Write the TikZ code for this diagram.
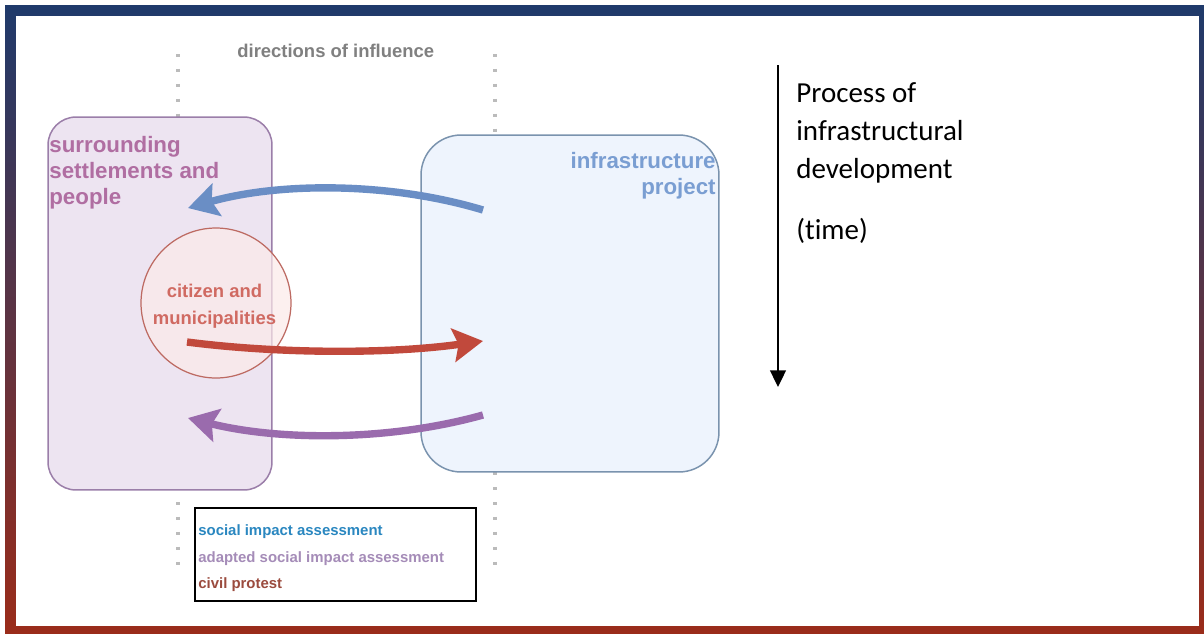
\documentclass[tikz,border=0pt]{standalone}
\usepackage{fontspec}
\setmainfont{Liberation Sans}
\newfontfamily\calibri[Ligatures=NoCommon]{Carlito}
\usetikzlibrary{arrows.meta}

\definecolor{framebl}{HTML}{1F3A6B}
\definecolor{framemd}{HTML}{5A3460}
\definecolor{framerd}{HTML}{9A2C1A}
\definecolor{dotgray}{HTML}{BBBBBB}
\definecolor{settlefill}{HTML}{EDE4F1}
\definecolor{settleline}{HTML}{9B7EA9}
\definecolor{settletext}{HTML}{B06EA2}
\definecolor{projfill}{HTML}{EEF4FD}
\definecolor{projline}{HTML}{7A93AE}
\definecolor{projtext}{HTML}{7A9ED2}
\definecolor{citfill}{HTML}{FCEAE9}
\definecolor{citline}{HTML}{BD6A62}
\definecolor{cittext}{HTML}{D06A62}
\definecolor{sia}{HTML}{6A8EC5}
\definecolor{protest}{HTML}{C1493C}
\definecolor{adapted}{HTML}{9A6BAD}
\definecolor{siatext}{HTML}{2A87C0}
\definecolor{adaptedtext}{HTML}{A58CB8}
\definecolor{protesttext}{HTML}{9B4B3E}

\begin{document}
\begin{tikzpicture}[x=0.02cm,y=-0.02cm,
    box/.style={draw, line width=0.85pt, inner sep=0pt},
    title/.style={font=\fontsize{12.7}{14.8}\selectfont\bfseries, inner sep=0pt},
    legend/.style={font=\fontsize{8.5}{10}\selectfont\bfseries, inner sep=0pt, anchor=base west},
    influence/.style={line width=4.2pt, -{Stealth[length=17pt,width=19pt,inset=3pt]}},
    dots/.style={line width=1.8pt, dotgray, dash pattern=on 1.8pt off 6.7pt},
    proc/.style={font=\calibri\fontsize{16.5}{20}\selectfont, inner sep=0pt, anchor=base west}]
      \useasboundingbox (0,0) rectangle (1204,633);

      % frame
      \shade[top color=framebl, middle color=framemd, bottom color=framerd] (5,5) rectangle (1204,633);
      \fill[white] (16,16) rectangle (1199,626);

      % dotted guides
      \coordinate (lt) at (178,54);  \coordinate (lb) at (178,566);
      \coordinate (rt) at (495,54);  \coordinate (rb) at (495,566);
      \draw[dots] (lt) -- (lb);
      \draw[dots] (rt) -- (rb);
      \node (dirs) at (237,57) [anchor=base west, inner sep=0pt, font=\fontsize{10.5}{12}\selectfont\bfseries, text=gray] {directions of influence};

      % the two sides
      \node (settle) at (160,303.5) [box, settleline, fill=settlefill, rounded corners=0.56cm, minimum width=4.48cm, minimum height=7.46cm] {};
      \node (proj) at (570,303.5) [box, projline, fill=projfill, rounded corners=0.8cm, minimum width=5.96cm, minimum height=6.74cm] {};
      \node (settletxt) at (49,136) [title, anchor=north west, align=left, text=settletext] {surrounding\\settlements and\\people};
      \node (projtxt) at (716,152) [title, anchor=north east, align=right, text=projtext] {infrastructure\\project};

      \node (cit) at (216,303) [circle, draw=citline, fill=citfill, fill opacity=.7, line width=0.7pt, minimum size=3cm] {};
      \node (cittxt) at (214.5,284) [anchor=north, align=center, inner sep=0pt, font=\fontsize{10.5}{15.3}\selectfont\bfseries, text=cittext] {citizen and\\municipalities};

      % influence arrows
      \coordinate (siatail) at (483,210);  \coordinate (siahead) at (188,208);
      \coordinate (protail) at (187,342);  \coordinate (prohead) at (483,341);
      \coordinate (adatail) at (483,415);  \coordinate (adahead) at (188,418);
      \draw[influence, sia] (siatail) .. controls (390,182) and (280,182) .. (siahead);
      \draw[influence, protest] (protail) .. controls (280,354) and (390,354) .. (prohead);
      \draw[influence, adapted] (adatail) .. controls (390,441) and (280,441) .. (adahead);

      % legend
      \node (key) at (335.5,554.5) [draw, line width=1.1pt, inner sep=0pt, minimum width=5.61cm, minimum height=1.86cm] {};
      \node (keysia) at (198,535) [legend, text=siatext] {social impact assessment};
      \node (keyada) at (198,562) [legend, text=adaptedtext] {adapted social impact assessment};
      \node (keypro) at (198,588) [legend, text=protesttext] {civil protest};

      % time axis
      \coordinate (tstart) at (778,65);
      \coordinate (tend) at (778,387);
      \draw[line width=1.1pt, -{Triangle[length=9.5pt,width=9pt]}] (tstart) -- (tend);
      \node (proc1) at (796,102) [proc] {Process of};
      \node (proc2) at (796,140) [proc] {infrastructural};
      \node (proc3) at (796,178) [proc] {development};
      \node (time) at (796,239) [proc] {(time)};

    \end{tikzpicture}
\end{document}
